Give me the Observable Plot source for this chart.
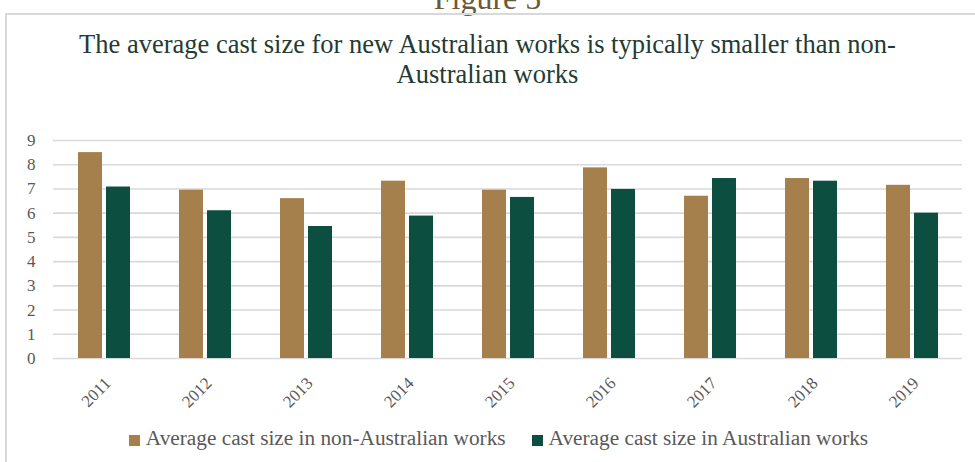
<!DOCTYPE html>
<html>
<head>
<meta charset="utf-8">
<script src="https://cdn.jsdelivr.net/npm/d3@7"></script>
<script src="https://cdn.jsdelivr.net/npm/@observablehq/plot@0.6"></script>
<style>
  html, body { margin: 0; padding: 0; background: #fff; }
  #wrap { position: relative; width: 975px; height: 462px; overflow: hidden; font-family: "Liberation Serif", "Times New Roman", serif; }
  #fig { position: absolute; top: -20px; left: 0; width: 975px; text-align: center; font-size: 32px; color: #6b5a3a; }
  #box { position: absolute; top: 13px; left: 5px; width: 980px; height: 460px; border-top: 2px solid #d9d9d9; border-left: 2px solid #d9d9d9; }
  #title { position: absolute; top: 29px; left: 0; width: 975px; text-align: center; font-size: 26.5px; line-height: 30px; color: #233b33; }
  #chart { position: absolute; top: 110px; left: 0; }
  #legend { position: absolute; top: 426px; left: 0; width: 975px; display: flex; justify-content: center; padding-left: 22px; box-sizing: border-box; font-size: 21.3px; color: #595959; }
  .item { display: flex; align-items: center; margin: 0 13px; }
  .sw { width: 11px; height: 11px; margin-right: 6px; margin-top: 3px; }
</style>
</head>
<body>
<div id="wrap">
  <div id="fig">Figure 5</div>
  <div id="box"></div>
  <div id="title">The average cast size for new Australian works is typically smaller than non-<br>Australian works</div>
  <div id="chart"></div>
  <div id="legend"></div>
</div>
<script>
const years = ["2011", "2012", "2013", "2014", "2015", "2016", "2017", "2018", "2019"];
const seriesNames = ["Average cast size in non-Australian works", "Average cast size in Australian works"];
const nonAustralian = [8.5, 6.95, 6.6, 7.32, 6.95, 7.87, 6.7, 7.43, 7.15];
const australian = [7.08, 6.1, 5.45, 5.88, 6.65, 6.98, 7.43, 7.32, 6.0];
const colors = ["#a57f4c", "#0c4f40"];
const yTicks = [0, 1, 2, 3, 4, 5, 6, 7, 8, 9];

const data = [];
years.forEach((yr, i) => {
  data.push({year: yr, series: seriesNames[0], value: nonAustralian[i]});
  data.push({year: yr, series: seriesNames[1], value: australian[i]});
});

const chart = Plot.plot({
  width: 975,
  height: 310,
  marginTop: 30,
  marginBottom: 62,
  marginLeft: 53,
  marginRight: 13,
  style: {fontFamily: "Liberation Serif, Times New Roman, serif", background: "transparent", overflow: "visible"},
  fx: {domain: years, padding: 0, label: null, axis: null},
  x: {domain: seriesNames, paddingInner: 0.143, paddingOuter: 0.875, axis: null},
  y: {domain: [0, 9], label: null},
  color: {domain: seriesNames, range: colors},
  marks: [
    Plot.ruleY(yTicks, {stroke: "#d9d9d9", strokeWidth: 1.6}),
    Plot.barY(data, {fx: "year", x: "series", y: "value", fill: "series"}),
    Plot.axisY({ticks: yTicks, tickSize: 0, tickPadding: 18, fontSize: 17, fill: "#595959", label: null}),
    Plot.axisFx({anchor: "bottom", tickSize: 0, tickRotate: -45, tickPadding: 22, dx: 4, fontSize: 17, fill: "#595959", label: null})
  ]
});
document.getElementById("chart").appendChild(chart);

const legend = document.getElementById("legend");
seriesNames.forEach((s, i) => {
  const item = document.createElement("div");
  item.className = "item";
  const sw = document.createElement("span");
  sw.className = "sw";
  sw.style.background = colors[i];
  const t = document.createElement("span");
  t.textContent = s;
  item.appendChild(sw);
  item.appendChild(t);
  legend.appendChild(item);
});
</script>
</body>
</html>
